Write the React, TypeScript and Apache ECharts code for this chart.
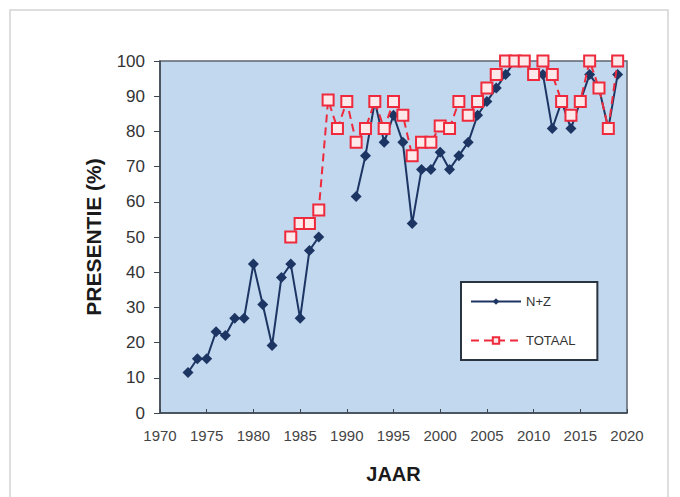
import React, { useEffect, useRef } from "react";
import * as echarts from "echarts";

const years = [
  1973, 1974, 1975, 1976, 1977, 1978, 1979, 1980, 1981, 1982, 1983, 1984, 1985, 1986, 1987,
  1988, 1989, 1990, 1991, 1992, 1993, 1994, 1995, 1996, 1997, 1998, 1999, 2000, 2001, 2002,
  2003, 2004, 2005, 2006, 2007, 2008, 2009, 2010, 2011, 2012, 2013, 2014, 2015, 2016, 2017,
  2018, 2019,
];

const nzValues: (number | null)[] = [
  11.5, 15.4, 15.4, 23.1, 22, 26.9, 26.9, 42.3, 30.8, 19.2, 38.5, 42.3, 26.9, 46.2, 50,
  null, null, null, 61.5, 73.1, 88.5, 76.9, 84.6, 76.9, 53.8, 69.2, 69.2, 74.1, 69.2, 73.1,
  76.9, 84.6, 88.5, 92.3, 96.2, 100, 100, 96.2, 96.2, 80.8, 88.5, 80.8, 88.5, 96.2, 92.3,
  80.8, 96.2,
];

const totaalValues: (number | null)[] = [
  null, null, null, null, null, null, null, null, null, null, null, 50, 53.8, 53.8, 57.7,
  88.9, 80.8, 88.5, 76.9, 80.8, 88.5, 80.8, 88.5, 84.6, 73.1, 76.9, 76.9, 81.5, 80.8, 88.5,
  84.6, 88.5, 92.3, 96.2, 100, 100, 100, 96.2, 100, 96.2, 88.5, 84.6, 88.5, 100, 92.3,
  80.8, 100,
];

const seriesNames = ["N+Z", "TOTAAL"];
const axisTitles = { x: "JAAR", y: "PRESENTIE (%)" };

export default function App() {
  const ref = useRef<HTMLDivElement>(null);

  useEffect(() => {
    if (!ref.current) return;
    const chart = echarts.init(ref.current, undefined, { renderer: "svg" });
    const toPairs = (vals: (number | null)[]) =>
      years.map((y, i) => [y, vals[i] === null ? "-" : vals[i]]);
    const totaalPairs = years
      .map((y, i) => [y, totaalValues[i]])
      .filter((p) => p[1] !== null);

    chart.setOption({
      animation: false,
      backgroundColor: "#ffffff",
      textStyle: { fontFamily: "Liberation Sans, Arial, sans-serif" },
      graphic: [
        {
          type: "rect",
          shape: { x: 10, y: 10, width: 658, height: 500 },
          style: { fill: "none", stroke: "#d4d4d4", lineWidth: 1.5 },
          z: 0,
        },
      ],
      grid: {
        left: 160,
        right: 53,
        top: 61,
        bottom: 84,
        show: true,
        backgroundColor: "#c2d8ef",
        borderColor: "#5d6670",
        borderWidth: 1.5,
      },
      xAxis: {
        type: "value",
        min: 1970,
        max: 2020,
        interval: 5,
        name: axisTitles.x,
        nameLocation: "middle",
        nameGap: 51,
        nameTextStyle: { fontSize: 20, fontWeight: "bold", color: "#1a1a1a" },
        axisLine: { show: true, lineStyle: { color: "#3c4650", width: 1.5 } },
        axisTick: { show: true, inside: true, length: 4, lineStyle: { color: "#3c4650" } },
        axisLabel: { fontSize: 15, color: "#444", margin: 15, formatter: (v: number) => String(v) },
        splitLine: { show: false },
      },
      yAxis: {
        type: "value",
        min: 0,
        max: 100,
        interval: 10,
        name: axisTitles.y,
        nameLocation: "middle",
        nameGap: 56,
        nameTextStyle: { fontSize: 21, fontWeight: "bold", color: "#1a1a1a" },
        axisLine: { show: true, lineStyle: { color: "#3c4650", width: 1.5 } },
        axisTick: { show: true, inside: false, length: 6, lineStyle: { color: "#3c4650" } },
        axisLabel: { fontSize: 17, color: "#333", margin: 15 },
        splitLine: { show: false },
      },
      legend: {
        left: 461,
        top: 282,
        orient: "vertical",
        backgroundColor: "#ffffff",
        borderColor: "#2a3440",
        borderWidth: 2,
        borderRadius: 0,
        padding: [13, 22, 13, 9],
        itemGap: 26,
        itemWidth: 50,
        itemHeight: 8,
        textStyle: { fontSize: 13, color: "#333" },
        data: seriesNames,
      },
      series: [
        {
          name: seriesNames[0],
          type: "line",
          data: toPairs(nzValues),
          connectNulls: false,
          symbol: "diamond",
          symbolSize: 11,
          lineStyle: { color: "#1c3563", width: 2 },
          itemStyle: { color: "#1c3563" },
          z: 2,
        },
        {
          name: seriesNames[1],
          type: "line",
          data: totaalPairs,
          symbol: "rect",
          symbolSize: 11,
          lineStyle: { color: "#ee2a3c", width: 2, type: [8, 5] },
          itemStyle: { color: "#fde8ea", borderColor: "#ee2a3c", borderWidth: 2 },
          z: 3,
        },
      ],
    });
    return () => chart.dispose();
  }, []);

  return (
    <div
      ref={ref}
      style={{ position: "fixed", left: 0, top: 0, width: 680, height: 497 }}
    />
  );
}
